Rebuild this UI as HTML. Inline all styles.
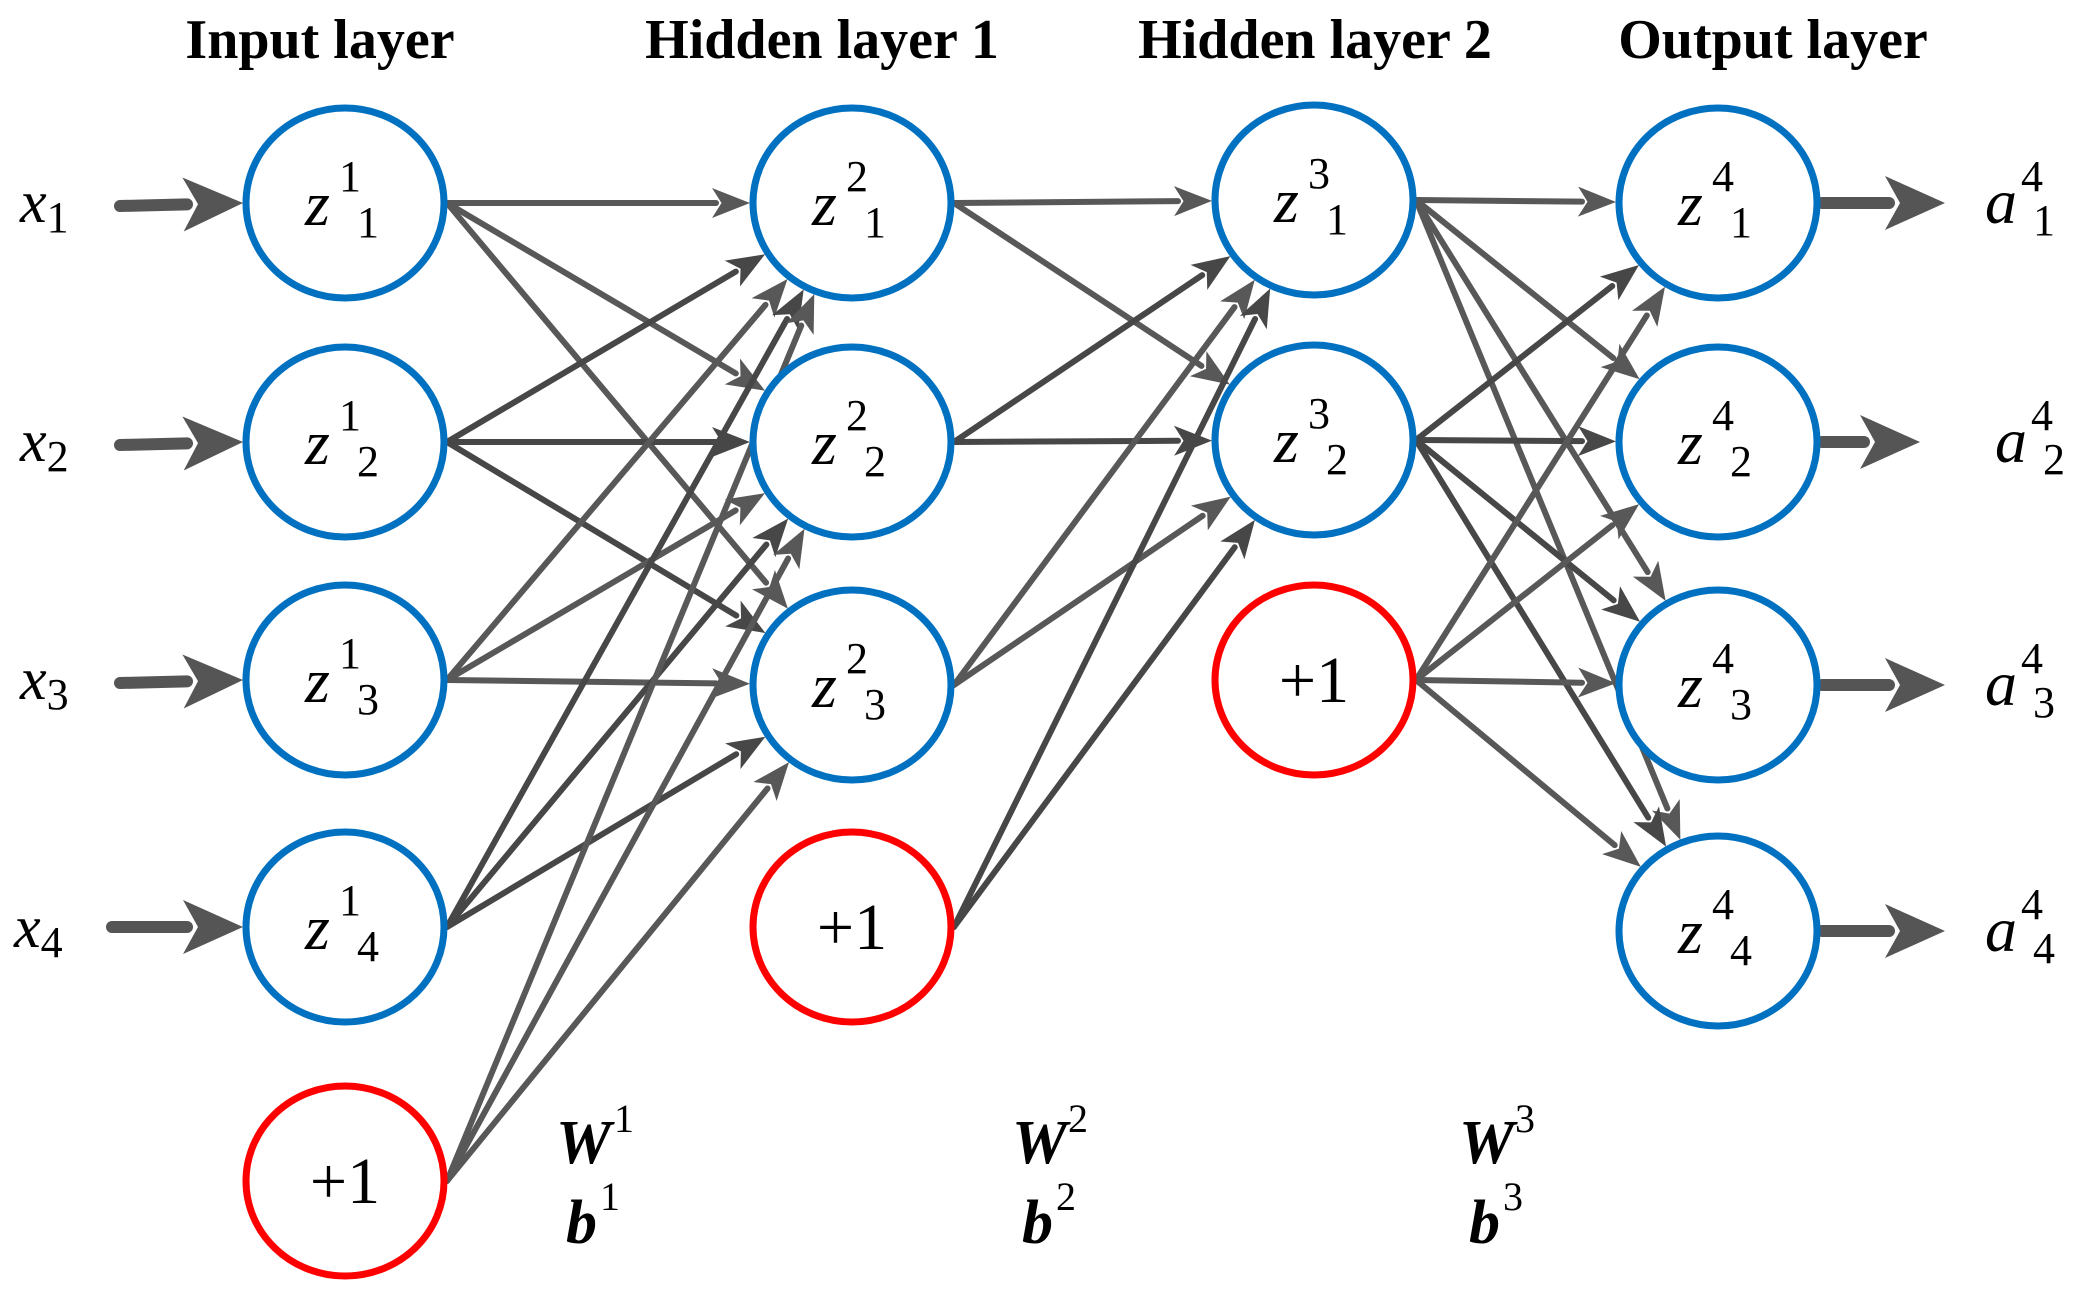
<!DOCTYPE html>
<html><head><meta charset="utf-8"><style>
html,body{margin:0;padding:0;background:#fff;}
svg{display:block;font-family:"Liberation Serif","DejaVu Serif",serif;}
</style></head><body>
<svg id="s" width="2092" height="1299" viewBox="0 0 2092 1299" xmlns="http://www.w3.org/2000/svg" font-family="Liberation Serif, DejaVu Serif, serif">
<g font-weight="bold" font-size="56" fill="#000" font-family="Liberation Serif, serif">
<text x="320" y="58" text-anchor="middle">Input layer</text>
<text x="822" y="58" text-anchor="middle">Hidden layer 1</text>
<text x="1315" y="58" text-anchor="middle">Hidden layer 2</text>
<text x="1773" y="58" text-anchor="middle">Output layer</text>
</g>
<g id="edges"></g>
<g id="nodes" fill="#fff" stroke-width="7"></g>
<g id="labels" font-size="60" fill="#000" font-family="Liberation Serif, serif"></g>
<g font-size="60" font-style="italic" fill="#000" font-family="Liberation Serif, serif">
<text x="20" y="222">x<tspan font-style="normal" font-size="44" dy="10">1</tspan></text>
<text x="20" y="461">x<tspan font-style="normal" font-size="44" dy="10">2</tspan></text>
<text x="20" y="699">x<tspan font-style="normal" font-size="44" dy="10">3</tspan></text>
<text x="14" y="947">x<tspan font-style="normal" font-size="44" dy="10">4</tspan></text>
</g>
<g font-size="62" font-weight="bold" font-style="italic" fill="#000" font-family="Liberation Serif, serif">
<text x="556" y="1163">W</text><text x="614" y="1132" font-size="40" font-weight="normal" font-style="normal">1</text>
<text x="566" y="1243">b</text><text x="600" y="1210" font-size="40" font-weight="normal" font-style="normal">1</text>
<text x="1012" y="1163">W</text><text x="1068" y="1132" font-size="40" font-weight="normal" font-style="normal">2</text>
<text x="1022" y="1243">b</text><text x="1056" y="1210" font-size="40" font-weight="normal" font-style="normal">2</text>
<text x="1459" y="1163">W</text><text x="1515" y="1132" font-size="40" font-weight="normal" font-style="normal">3</text>
<text x="1469" y="1243">b</text><text x="1503" y="1210" font-size="40" font-weight="normal" font-style="normal">3</text>
</g>
</svg>
<script>
var NS="http://www.w3.org/2000/svg";
var RX=102,RY=98;
var L=[
 {x:345,ys:[203,442,680,927],b:1181,sup:"1"},
 {x:852,ys:[203,442,685],b:927,sup:"2"},
 {x:1314,ys:[200,440],b:680,sup:"3"},
 {x:1718,ys:[203,442,685,931],b:null,sup:"4"}
];
var E=document.getElementById("edges"),N=document.getElementById("nodes"),T=document.getElementById("labels");
function el(n,a,p){var e=document.createElementNS(NS,n);for(var k in a)e.setAttribute(k,a[k]);p.appendChild(e);return e;}
function arrow(x1,y1,x2,y2,w,hl,hw,col){
 var dx=x2-x1,dy=y2-y1,d=Math.sqrt(dx*dx+dy*dy),ux=dx/d,uy=dy/d;
 var bx=x2-ux*hl,by=y2-uy*hl;
 el("line",{x1:x1,y1:y1,x2:bx+ux*4,y2:by+uy*4,stroke:col,"stroke-width":w,"stroke-linecap":"round"},E);
 el("polygon",{points:x2+","+y2+" "+(bx-uy*hw)+","+(by+ux*hw)+" "+(x2-ux*hl*0.75)+","+(y2-uy*hl*0.75)+" "+(bx+uy*hw)+","+(by-ux*hw),fill:col},E);
}
function onEllipse(tx,ty,sx,sy){var dx=sx-tx,dy=sy-ty;var t=1/Math.sqrt((dx/RX)*(dx/RX)+(dy/RY)*(dy/RY));return [tx+dx*t,ty+dy*t];}
for(var i=0;i<3;i++){
 var A=L[i],B=L[i+1],src=A.ys.slice();if(A.b)src.push(A.b);
 src.forEach(function(sy,si){
  var sx=A.x+RX;
  B.ys.forEach(function(ty){
   var p=onEllipse(B.x,ty,sx,sy);
   arrow(sx,sy,p[0],p[1],6,38,15,(si%2?"#474747":"#585858"));
  });
 });
}
[203,442,680].forEach(function(y){arrow(120,y+3,243,y,12,60,27,"#555");});
arrow(112,927,243,927,12,60,27,"#555");
[[203,1945],[442,1920],[685,1945],[931,1945]].forEach(function(o){arrow(1822,o[0],o[1],o[0],12,60,27,"#555");});
L.forEach(function(A){
 A.ys.forEach(function(y,j){
  el("ellipse",{cx:A.x,cy:y,rx:RX-3,ry:RY-3,stroke:"#0070c0"},N);
  var t=el("text",{x:A.x-40,y:y+22,"font-style":"italic","font-size":"64"},T);t.textContent="z";
  var s=el("text",{x:A.x-6,y:y-12,"font-size":"44"},T);s.textContent=A.sup;
  var b=el("text",{x:A.x+12,y:y+34,"font-size":"44"},T);b.textContent=String(j+1);
 });
 if(A.b){
  el("ellipse",{cx:A.x,cy:A.b,rx:RX-3,ry:RY-3,stroke:"#ff0000"},N);
  var t=el("text",{x:A.x,y:A.b+22,"text-anchor":"middle","font-size":"66"},T);t.textContent="+1";
 }
});
[[203,"1"],[442,"2"],[685,"3"],[931,"4"]].forEach(function(o,k){
 var x=k==1?1995:1985;
 var t=el("text",{x:x,y:o[0]+20,"font-style":"italic","font-size":"64"},T);t.textContent="a";
 var s=el("text",{x:x+36,y:o[0]-12,"font-size":"44"},T);s.textContent="4";
 var b=el("text",{x:x+48,y:o[0]+32,"font-size":"44"},T);b.textContent=o[1];
});
</script>
</body></html>
